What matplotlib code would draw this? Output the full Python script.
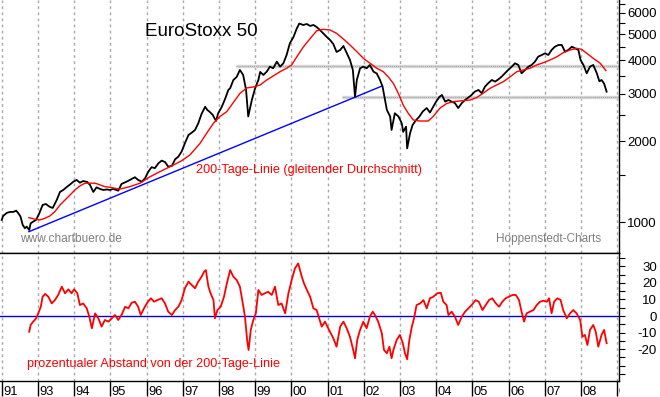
import matplotlib
matplotlib.use("Agg")
import matplotlib.pyplot as plt
import matplotlib.transforms as mtransforms
from matplotlib.patches import Rectangle
from matplotlib.ticker import NullFormatter

plt.rcParams['font.family'] = ['Liberation Sans', 'DejaVu Sans']

# EuroStoxx 50 (decimal years / index points)
price_year = [1992.00, 1992.04, 1992.14, 1992.23, 1992.32, 1992.40, 1992.46, 1992.52, 1992.58, 1992.64,
              1992.69, 1992.76, 1992.80, 1992.87, 1992.95, 1993.04, 1993.13, 1993.22, 1993.33, 1993.41,
              1993.52, 1993.61, 1993.70, 1993.80, 1993.89, 1993.98, 1994.07, 1994.16, 1994.25, 1994.36,
              1994.44, 1994.53, 1994.62, 1994.72, 1994.81, 1994.90, 1994.99, 1995.08, 1995.22, 1995.31,
              1995.45, 1995.59, 1995.68, 1995.77, 1995.87, 1995.96, 1996.05, 1996.14, 1996.23, 1996.33,
              1996.42, 1996.51, 1996.60, 1996.70, 1996.79, 1996.88, 1996.97, 1997.06, 1997.16, 1997.25,
              1997.34, 1997.43, 1997.52, 1997.62, 1997.68, 1997.75, 1997.83, 1997.92, 1997.98, 1998.08,
              1998.17, 1998.26, 1998.31, 1998.40, 1998.49, 1998.58, 1998.67, 1998.75, 1998.81, 1998.91,
              1999.00, 1999.09, 1999.14, 1999.23, 1999.32, 1999.41, 1999.50, 1999.60, 1999.69, 1999.78,
              1999.87, 1999.96, 2000.06, 2000.15, 2000.22, 2000.33, 2000.43, 2000.52, 2000.61, 2000.70,
              2000.79, 2000.88, 2000.98, 2001.07, 2001.16, 2001.25, 2001.35, 2001.44, 2001.53, 2001.62,
              2001.70, 2001.76, 2001.81, 2001.90, 2001.99, 2002.08, 2002.17, 2002.27, 2002.36, 2002.45,
              2002.52, 2002.59, 2002.64, 2002.73, 2002.77, 2002.86, 2002.96, 2003.05, 2003.09, 2003.17,
              2003.20, 2003.28, 2003.35, 2003.45, 2003.54, 2003.63, 2003.74, 2003.83, 2003.92, 2004.00,
              2004.09, 2004.16, 2004.25, 2004.34, 2004.43, 2004.52, 2004.61, 2004.71, 2004.80, 2004.89,
              2004.98, 2005.07, 2005.17, 2005.26, 2005.35, 2005.44, 2005.54, 2005.63, 2005.72, 2005.81,
              2005.90, 2005.99, 2006.09, 2006.18, 2006.27, 2006.36, 2006.46, 2006.55, 2006.64, 2006.73,
              2006.82, 2006.92, 2007.01, 2007.10, 2007.19, 2007.28, 2007.38, 2007.47, 2007.56, 2007.65,
              2007.75, 2007.84, 2007.93, 2007.99, 2008.07, 2008.16, 2008.25, 2008.34, 2008.44, 2008.51,
              2008.57, 2008.64, 2008.71]
price_level = [1022, 1057, 1085, 1094, 1094, 1106, 1082, 1051, 979, 952,
               965, 938, 993, 1007, 1022, 1082, 1161, 1171, 1142, 1132,
               1212, 1298, 1320, 1355, 1384, 1417, 1438, 1405, 1425, 1414,
               1378, 1298, 1350, 1331, 1320, 1326, 1320, 1332, 1312, 1390,
               1417, 1450, 1472, 1438, 1417, 1459, 1544, 1604, 1591, 1659,
               1697, 1677, 1612, 1621, 1716, 1756, 1833, 1968, 2113, 2155,
               2205, 2334, 2528, 2689, 2617, 2572, 2507, 2381, 2544, 2689,
               2875, 3105, 3150, 3382, 3470, 3684, 3530, 3105, 2475, 2850,
               3150, 3382, 3622, 3530, 3631, 3790, 3738, 3956, 3790, 3900,
               4188, 4627, 4886, 5250, 5480, 5413, 5459, 5367, 5413, 5320,
               5186, 5040, 4886, 4761, 4601, 4297, 4371, 4523, 4260, 4013,
               3684, 2925, 3382, 3738, 3790, 3738, 3845, 3631, 3575, 3382,
               3200, 2850, 2617, 2475, 2205, 2544, 2475, 2337, 2171, 2268,
               1884, 2143, 2301, 2402, 2475, 2582, 2660, 2560, 2690, 2810,
               2925, 2975, 2810, 2850, 2810, 2775, 2660, 2775, 2850, 2910,
               2975, 3062, 3105, 3020, 3195, 3290, 3382, 3335, 3400, 3480,
               3580, 3684, 3790, 3900, 3845, 3580, 3684, 3790, 3845, 3956,
               4130, 4188, 4250, 4188, 4371, 4495, 4562, 4562, 4310, 4371,
               4495, 4433, 4371, 4013, 3845, 3580, 3790, 3845, 3580, 3343,
               3382, 3280, 3060]

# 200-Tage-Linie
ma_year = [1992.75, 1992.92, 1993.06, 1993.20, 1993.33, 1993.47, 1993.61, 1993.75, 1993.89, 1994.02,
           1994.16, 1994.30, 1994.44, 1994.58, 1994.72, 1994.85, 1994.99, 1995.13, 1995.27, 1995.54,
           1995.82, 1996.10, 1996.37, 1996.65, 1996.93, 1997.20, 1997.48, 1997.66, 1997.85, 1998.03,
           1998.22, 1998.40, 1998.58, 1998.77, 1998.95, 1999.14, 1999.32, 1999.50, 1999.69, 1999.87,
           2000.01, 2000.15, 2000.33, 2000.52, 2000.70, 2000.88, 2001.07, 2001.25, 2001.44, 2001.62,
           2001.81, 2001.99, 2002.17, 2002.36, 2002.54, 2002.68, 2002.82, 2002.91, 2003.00, 2003.09,
           2003.23, 2003.37, 2003.55, 2003.78, 2003.92, 2004.11, 2004.29, 2004.47, 2004.66, 2004.94,
           2005.12, 2005.30, 2005.49, 2005.67, 2005.86, 2006.04, 2006.23, 2006.41, 2006.59, 2006.78,
           2006.96, 2007.15, 2007.33, 2007.51, 2007.70, 2007.88, 2008.02, 2008.16, 2008.34, 2008.53,
           2008.69]
ma_level = [1042, 1028, 1022, 1037, 1057, 1097, 1161, 1212, 1265, 1320,
            1366, 1399, 1399, 1399, 1378, 1358, 1351, 1339, 1331, 1358,
            1399, 1479, 1544, 1611, 1682, 1781, 1968, 2143, 2337, 2475,
            2582, 2790, 3015, 3160, 3186, 3240, 3382, 3500, 3631, 3738,
            3845, 4120, 4480, 4818, 5150, 5215, 5186, 5040, 4800, 4562,
            4310, 4070, 3905, 3738, 3631, 3470, 3283, 3105, 2925, 2730,
            2544, 2402, 2381, 2381, 2475, 2660, 2765, 2810, 2826, 2850,
            2910, 3020, 3150, 3240, 3335, 3470, 3631, 3684, 3738, 3845,
            3920, 4013, 4120, 4270, 4371, 4433, 4395, 4250, 4070, 3905,
            3665]

# prozentualer Abstand von der 200-Tage-Linie
dist_year = [1992.76, 1992.80, 1992.87, 1992.95, 1993.01, 1993.08, 1993.13, 1993.20, 1993.29, 1993.38,
             1993.47, 1993.56, 1993.66, 1993.75, 1993.84, 1993.93, 1994.00, 1994.09, 1994.16, 1994.25,
             1994.35, 1994.42, 1994.49, 1994.58, 1994.67, 1994.76, 1994.85, 1994.95, 1995.04, 1995.13,
             1995.22, 1995.31, 1995.41, 1995.50, 1995.59, 1995.68, 1995.77, 1995.84, 1995.93, 1996.02,
             1996.12, 1996.21, 1996.30, 1996.42, 1996.51, 1996.60, 1996.70, 1996.79, 1996.88, 1996.97,
             1997.06, 1997.16, 1997.25, 1997.34, 1997.43, 1997.52, 1997.59, 1997.64, 1997.71, 1997.77,
             1997.85, 1997.89, 1997.96, 1998.05, 1998.14, 1998.22, 1998.31, 1998.40, 1998.49, 1998.58,
             1998.66, 1998.72, 1998.78, 1998.82, 1998.88, 1998.95, 1999.02, 1999.09, 1999.18, 1999.27,
             1999.36, 1999.46, 1999.55, 1999.64, 1999.73, 1999.83, 1999.92, 2000.01, 2000.10, 2000.19,
             2000.29, 2000.35, 2000.43, 2000.52, 2000.61, 2000.70, 2000.77, 2000.84, 2000.93, 2001.02,
             2001.16, 2001.25, 2001.35, 2001.44, 2001.53, 2001.62, 2001.71, 2001.76, 2001.82, 2001.90,
             2001.99, 2002.08, 2002.17, 2002.25, 2002.31, 2002.40, 2002.50, 2002.56, 2002.64, 2002.71,
             2002.77, 2002.82, 2002.91, 2003.00, 2003.08, 2003.14, 2003.20, 2003.26, 2003.33, 2003.39,
             2003.46, 2003.56, 2003.65, 2003.74, 2003.83, 2003.92, 2004.03, 2004.13, 2004.20, 2004.29,
             2004.34, 2004.43, 2004.52, 2004.61, 2004.71, 2004.80, 2004.89, 2004.98, 2005.09, 2005.18,
             2005.28, 2005.37, 2005.46, 2005.55, 2005.65, 2005.74, 2005.83, 2005.92, 2006.01, 2006.11,
             2006.20, 2006.29, 2006.36, 2006.43, 2006.50, 2006.59, 2006.69, 2006.78, 2006.87, 2006.96,
             2007.06, 2007.12, 2007.19, 2007.26, 2007.35, 2007.44, 2007.51, 2007.61, 2007.70, 2007.79,
             2007.88, 2007.98, 2008.04, 2008.11, 2008.18, 2008.25, 2008.34, 2008.41, 2008.48, 2008.57,
             2008.64, 2008.71]
dist_pct = [-9.5, -5.4, -3.4, -1.4, 1.6, 5.6, 11.6, 13.3, 11.6, 7.6,
            9.6, 12.7, 17.7, 13.7, 16.1, 13.7, 16.1, 13.7, 6.6, 7.6,
            4.6, -0.4, -7.4, 1.6, -1.4, -6.4, -2.4, -3.4, -1.4, 0.6,
            -2.4, 0.6, 5.6, 4.6, 8.0, 8.6, 5.6, 0.6, 4.6, 8.0,
            10.7, 8.6, 9.6, 10.7, 7.6, 2.6, 0.6, 3.6, 5.6, 9.6,
            16.7, 20.7, 18.7, 16.7, 20.7, 23.7, 26.7, 27.7, 17.7, 13.7,
            9.6, -1.4, 3.6, 5.6, 11.6, 19.7, 27.7, 23.7, 21.7, 17.7,
            7.6, -0.4, -14.5, -20.5, -8.4, -2.4, 1.6, 15.7, 12.7, 13.7,
            14.6, 12.7, 17.7, 6.6, 7.6, 1.6, 13.7, 21.7, 28.7, 31.7,
            23.7, 19.7, 15.7, 11.6, 4.6, 3.6, -1.4, -6.4, -3.4, -7.4,
            -13.4, -18.5, -6.4, -3.4, -7.4, -12.5, -20.5, -25.5, -14.5, -8.4,
            -3.4, -7.4, -0.4, 2.6, 0.6, -3.4, -10.4, -20.5, -22.5, -18.5,
            -25.5, -20.5, -14.5, -11.4, -16.4, -22.5, -26.1, -14.5, -6.4, -1.4,
            6.6, 7.6, 9.6, 4.6, 10.7, 11.6, 13.7, 14.0, 8.6, 6.6,
            0.6, 2.6, -0.4, -5.4, -0.4, 2.6, 4.6, 6.6, 9.6, 8.6,
            3.6, 6.6, 9.6, 10.7, 7.6, 5.6, 8.6, 10.7, 11.6, 12.7,
            12.7, 9.6, 2.6, -3.4, 1.6, 2.6, 3.6, 6.6, 8.6, 9.2,
            8.6, 10.7, 1.6, 8.6, 10.7, 9.6, 3.6, -1.4, 1.6, 3.6,
            1.6, -2.4, -12.5, -11.4, -17.5, -8.4, -5.4, -9.5, -18.5, -11.4,
            -8.4, -16.4]

# Trendlinie und Widerstandslinien
trend_year = [1992.75, 2002.51]
trend_level = [924, 3213]
resist_start = [1998.47, 2001.40]
resist_level = [3810, 2925]

year_ticks = list(range(1992, 2010))
year_labels = ['91', '93', '94', '95', '96', '97', '98', '99', '00',
               '01', '02', '03', '04', '05', '06', '07', '08', '09']
price_ticks = [1000, 2000, 3000, 4000, 5000, 6000]
price_minor = [1500, 2500, 3500, 4500, 5500, 6500]
pct_ticks = list(range(-35, 40, 5))
pct_labels = [str(v) if (v % 10 == 0 and -20 <= v <= 30) else '' for v in pct_ticks]

W, H = 660, 397
x_left, x_right = 1991.953, 2009.052

fig = plt.figure(figsize=(W / 100, H / 100), dpi=100)
ax1 = fig.add_axes([0, 1 - 253 / H, 619 / W, 253 / H])
ax2 = fig.add_axes([0, 1 - 381 / H, 619 / W, 128 / H], sharex=ax1)

grid_kw = dict(color='#a8a8a8', linestyle=(0, (2, 2.4)), linewidth=1.0)

# upper panel
ax1.set_yscale('log')
ax1.set_ylim(770, 6702)
ax1.set_xlim(x_left, x_right)
ax1.set_axisbelow(True)
ax1.grid(axis='x', **grid_kw)
ax1.grid(axis='y', visible=False, which='both')

for s, lv in zip(resist_start, resist_level):
    ax1.hlines(lv, s, x_right, color='#d4d4d4', linewidth=2.4, zorder=2)
    ax1.hlines(lv, s, x_right, color='#a4a4a4', linewidth=0.7, linestyle=(0, (1, 1)), zorder=2)

ax1.plot(trend_year, trend_level, color='#0000ff', linewidth=1.0, zorder=3)
ax1.plot(price_year, price_level, color='black', linewidth=1.3, zorder=4)
ax1.plot(ma_year, ma_level, color='#ff0000', linewidth=1.0, zorder=5)

ax1.text(145 / W, 1 - 35.7 / H, 'EuroStoxx 50', transform=fig.transFigure,
         fontsize=13.5, color='black', va='baseline', ha='left')
ax1.text(196 / W, 1 - 173.3 / H, '200-Tage-Linie (gleitender Durchschnitt)', transform=fig.transFigure,
         fontsize=9.1, color='#ff0000', va='baseline', ha='left')
ax1.text(20 / W, 1 - 242.5 / H, 'www.chartbuero.de', transform=fig.transFigure,
         fontsize=8.6, color='#808080', va='baseline', ha='left')
ax1.text(601 / W, 1 - 242.3 / H, 'Hoppenstedt-Charts', transform=fig.transFigure,
         fontsize=8.5, color='#808080', va='baseline', ha='right')

ax1.yaxis.tick_right()
ax1.set_yticks(price_ticks)
ax1.set_yticklabels([str(v) for v in price_ticks])
ax1.set_yticks(price_minor, minor=True)
ax1.yaxis.set_minor_formatter(NullFormatter())
ax1.tick_params(axis='y', which='both', direction='out', length=4.3, width=0.8,
                labelsize=9.5, pad=23, colors='black')
ax1.tick_params(axis='x', which='both', length=0, labelbottom=False)
for sp in ['top', 'left']:
    ax1.spines[sp].set_visible(False)
for sp in ['right', 'bottom']:
    ax1.spines[sp].set_linewidth(1.0)

# lower panel
ax2.set_ylim(-39.2, 38)
ax2.set_axisbelow(True)
ax2.grid(axis='x', **grid_kw)
ax2.axhline(0, color='#0000e0', linewidth=1.0, zorder=3)
ax2.plot(dist_year, dist_pct, color='#ff0000', linewidth=1.3, zorder=4)
ax2.text(27 / W, 1 - 367 / H, 'prozentualer Abstand von der 200-Tage-Linie', transform=fig.transFigure,
         fontsize=9.1, color='#ff0000', va='baseline', ha='left')

ax2.yaxis.tick_right()
ax2.set_yticks(pct_ticks)
ax2.set_yticklabels(pct_labels)
ax2.tick_params(axis='y', which='both', direction='out', length=4.3, width=0.8,
                labelsize=9.5, pad=23, colors='black')
ax2.spines['left'].set_visible(False)
for sp in ['right', 'bottom', 'top']:
    ax2.spines[sp].set_linewidth(1.0)

ax2.set_xticks(year_ticks)
ax2.set_xticklabels([''] * len(year_ticks))
ax2.tick_params(axis='x', direction='out', length=10.8, width=1.0, colors='black')
ax2.set_xlim(x_left, x_right)

for ax in (ax1, ax2):
    for lab in ax.yaxis.get_majorticklabels():
        lab.set_horizontalalignment('right')

# year labels sit right of their tick lines
lab_tr = mtransforms.blended_transform_factory(ax2.transData, fig.transFigure) + \
    mtransforms.ScaledTranslation(1.5 / 100, 0, fig.dpi_scale_trans)
clip_rect = Rectangle((0, 0), 619.5 / W, 1, transform=fig.transFigure)
for yr, lab in zip(year_ticks, year_labels):
    t = ax2.text(yr, 1 - 395 / H, lab, transform=lab_tr, fontsize=9.3,
                 ha='left', va='baseline', color='black')
    t.set_clip_path(clip_rect)
    t.set_clip_on(True)

fig.savefig('out.png', dpi=100, facecolor='white')
